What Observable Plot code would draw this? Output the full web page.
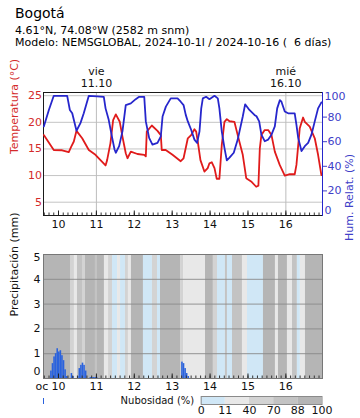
<!DOCTYPE html>
<html><head><meta charset="utf-8">
<script src="https://cdn.jsdelivr.net/npm/d3@7"></script>
<script src="https://cdn.jsdelivr.net/npm/@observablehq/plot@0.6"></script>
<style>
body{margin:0;background:#fff;font-family:"DejaVu Sans",sans-serif;}
#wrap{position:relative;width:360px;height:418px;overflow:hidden;background:#fff;}
.t{position:absolute;left:15px;white-space:nowrap;color:#000;line-height:normal;}
.p{position:absolute;left:0;}
</style></head><body>
<div id="wrap">
<div class="t" style="top:4.7px;font-size:14px">Bogotá</div>
<div class="t" style="top:23.6px;font-size:11px">4.61°N, 74.08°W (2582 m snm)</div>
<div class="t" style="top:36.4px;font-size:11px">Modelo: NEMSGLOBAL, 2024-10-1l / 2024-10-16 (&nbsp; 6 días)</div>
<div class="p" id="p1" style="top:56px"></div>
<div class="p" id="p1b" style="top:56px"></div>
<div class="p" id="p2" style="top:240px"></div>
<div class="p" id="p3" style="top:393px"></div>
<div style="position:absolute;left:42.5px;top:397.5px;width:1.6px;height:6px;background:#2a62dd"></div>
</div>
<script>
// hours since 2024-10-10 00:00
const xDomain = [-9.5, 167.2];
const dayHours = [0, 24, 48, 72, 96, 120, 144];
const dayLabels = ["10", "11", "12", "13", "14", "15", "16"];
const headerHours = [24, 144];
const headerLabels = ["vie\n11.10", "mié\n16.10"];
const tempTicks = [5, 10, 15, 20, 25];
const humTicks = [20, 40, 60, 80];
const precipTicks = [1, 2, 3, 4];

const tempHours = [-9.3,-3.0,2.3,6.5,8.0,9.7,11.4,15.0,19.2,23.4,29.8,30.8,32.9,34.6,36.3,38.8,40.5,42.6,43.7,45.8,50.0,54.3,55.3,55.9,59.1,62.7,64.8,65.4,67.9,72.2,77.4,79.2,81.9,84.0,86.1,87.2,88.2,89.9,92.4,94.5,95.6,97.1,98.8,100.2,101.9,103.4,105.1,106.6,108.3,111.4,113.5,116.7,118.9,122.0,125.2,126.6,127.5,128.5,130.6,132.8,134.9,137.0,140.1,143.3,146.5,149.6,150.7,152.8,154.9,156.0,159.1,162.3,164.4,166.5];
const tempValues = [17.6,14.8,14.75,14.4,15.4,16.4,18.4,17.0,14.8,13.9,11.9,12.9,16.1,20.4,21.5,20.1,17.3,14.2,13.25,14.5,14.05,13.9,13.6,18.25,19.4,18.4,17.6,14.8,14.8,13.9,12.7,13.25,17.0,17.6,18.7,18.25,16.4,12.9,10.75,11.4,12.3,12.5,11.4,9.4,9.4,15.7,20.1,20.6,20.2,20.1,17.6,13.9,9.5,8.9,7.9,8.1,15.1,17.6,18.55,18.55,17.6,14.5,12.0,10.0,10.25,10.25,12.0,18.9,20.9,20.1,19.2,17.0,13.9,10.1];

const humHours = [-9.3,-6.1,-3.0,5.5,7.2,8.7,11.4,13.9,16.0,19.2,24.5,28.7,29.8,31.8,34.0,35.5,36.3,38.4,40.5,42.6,45.8,48.9,51.1,54.3,55.3,57.4,59.5,62.7,64.8,65.9,68.0,71.1,75.4,77.4,79.2,80.6,81.9,84.0,86.1,87.8,89.3,90.4,91.4,93.5,95.6,98.8,100.9,101.9,103.4,105.1,106.6,108.3,111.0,113.5,116.7,118.2,120.9,124.1,125.4,127.1,128.5,130.6,132.8,134.9,137.0,138.5,140.2,141.2,143.3,145.4,149.6,150.7,151.8,153.9,156.0,158.1,160.2,162.3,164.4,166.5];
const humValues = [72.4,85.8,97.3,97.3,85.8,83.1,68.9,75.1,83.1,97.3,96.8,96.5,87.1,77.8,63.1,53.7,51.0,56.4,68.4,89.8,91.2,94.6,96.5,96.5,76.5,63.1,57.7,59.0,64.4,80.5,88.5,95.2,95.2,92.5,89.8,81.8,76.5,69.7,61.7,59.0,68.4,87.1,95.2,96.5,94.6,97.3,95.2,87.1,68.4,55.0,44.8,47.0,51.0,61.7,80.5,90.4,85.8,81.8,80.7,76.5,65.7,60.4,61.7,65.7,72.4,87.1,93.8,92.5,84.5,83.1,83.1,73.7,63.1,52.4,56.4,59.0,65.7,76.5,87.1,92.0];

const precipHours = [-10,-5,-4,-3,-2,-1,0,1,2,3,4,5,8,9,12,13,14,15,16,17,20,21,22,23,24,78,79,80,81,82];
const precipValues = [0.26,0.3,0.6,0.87,1.0,1.2,1.07,1.12,0.92,0.72,0.35,0.08,0.2,0.08,0.08,0.4,0.53,0.62,0.53,0.3,0.04,0.04,0.04,0.04,0.04,0.66,0.6,0.4,0.2,0.08];

const cloudStart = [-9.5,7.6,10.1,12.0,15.2,17.1,23.4,24.7,29.1,31.7,34.2,37.4,39.3,42.4,44.3,46.2,53.8,59.5,62.7,64.6,77.3,79.2,83.6,93.1,98.1,100.7,105.7,107.0,110.2,116.5,119.7,129.8,137.4,139.3,145.0,148.2,151.3,153.2,156.4];
const cloudEnd = 167.2;
const cloudCover = [95,60,30,80,60,95,80,90,25,50,5,25,8,55,15,95,5,55,5,95,55,25,30,95,55,5,75,5,80,30,5,92,25,92,35,80,5,25,92];
const cloudThresholds = [11, 40, 70, 88];
const cloudColors = ["#d0e7f6", "#e8e8e8", "#d3d3d3", "#c3c3c3", "#b5b5b5"];
const legendValues = [0, 11, 40, 70, 88];
const legendLabels = ["0", "11", "40", "70", "88", "100"];

const red = "#e01b1b", redText = "#d42a2a", blue = "#2626cc", blueText = "#4040c8", precipBlue = "#2a62dd";

const temps = tempHours.map((h, i) => ({h, v: tempValues[i]}));
const hums = humHours.map((h, i) => ({h, v: humValues[i]}));
const precip = precipHours.map((h, i) => ({h, v: precipValues[i]}));
const clouds = cloudStart.map((s, i) => ({s, e: i + 1 < cloudStart.length ? cloudStart[i + 1] : cloudEnd, c: cloudCover[i]}));
const legendCells = legendValues.map((v, i) => ({i, v}));
const minorTicks = d3.range(-9, 167, 3);

const font = "DejaVu Sans";
const st = {fontFamily: font, fontSize: "11px", background: "transparent", overflow: "visible"};
const W = 360, ML = 43, MR = 38;
const dayFmt = d => dayLabels[dayHours.indexOf(d)];

// top panel - temperature
const H1 = 176, MT1 = 36, MB1 = 17, FH1 = H1 - MT1 - MB1;
const p1 = Plot.plot({
  width: W, height: H1, marginTop: MT1, marginBottom: MB1, marginLeft: ML, marginRight: MR,
  style: st,
  x: {domain: xDomain, axis: null, label: null},
  y: {domain: [2.5, 25.6], axis: null, label: null},
  marks: [
    Plot.gridY(tempTicks, {stroke: "#c4c4c4", strokeOpacity: 1}),
    Plot.ruleX(headerHours, {stroke: "#bcbcbc"}),
    Plot.frame({stroke: "#1a1a1a"}),
    Plot.tickX(minorTicks, {stroke: "#333", insetTop: FH1 - 2.5}),
    Plot.tickX(dayHours, {stroke: "#222", insetTop: FH1 - 4.5}),
    Plot.axisX(dayHours, {label: null, tickSize: 0, tickPadding: 5, tickFormat: dayFmt, fontSize: 11, fill: "#111"}),
    Plot.axisY(tempTicks, {label: null, tickSize: 0, tickPadding: 1.5, color: redText, fontSize: 11}),
    Plot.text(headerHours, {x: d => d, text: d => headerLabels[headerHours.indexOf(d)], frameAnchor: "top", lineAnchor: "bottom", dy: -5.6, lineHeight: 1.06, fontSize: 11, fill: "#111"}),
    Plot.text(["Temperatura (°C)"], {frameAnchor: "left", rotate: -90, dx: -29, fill: redText, fontSize: 11}),
    Plot.line(temps, {x: "h", y: "v", stroke: red, strokeWidth: 1.8})
  ]
});
document.getElementById("p1").append(p1);

// top panel - humidity overlay
const p1b = Plot.plot({
  width: W, height: H1, marginTop: MT1, marginBottom: MB1, marginLeft: ML, marginRight: MR,
  style: st,
  x: {domain: xDomain, axis: null, label: null},
  y: {domain: [0, 100], axis: null, label: null},
  marks: [
    Plot.line(hums, {x: "h", y: "v", stroke: blue, strokeWidth: 1.8}),
    Plot.frame({anchor: "right", stroke: blue}),
    Plot.axisY(humTicks, {label: null, anchor: "right", tickSize: 4, tickPadding: 1, color: blueText, fontSize: 11}),
    Plot.text([100], {y: d => d, frameAnchor: "right", dx: 2, dy: 3.5, textAnchor: "start", fill: blueText, fontSize: 11}),
    Plot.text([0], {y: d => d, frameAnchor: "right", dx: 2, dy: -5.5, textAnchor: "start", fill: blueText, fontSize: 11}),
    Plot.text(["Hum. Relat. (%)"], {frameAnchor: "right", rotate: -90, dx: 27, fill: blueText, fontSize: 11})
  ]
});
document.getElementById("p1b").append(p1b);

// bottom panel - precipitation and cloud cover
const H2 = 155, MT2 = 14, MB2 = 17, FH2 = H2 - MT2 - MB2;
const p2 = Plot.plot({
  width: W, height: H2, marginTop: MT2, marginBottom: MB2, marginLeft: ML, marginRight: MR,
  style: st,
  x: {domain: xDomain, axis: null, label: null},
  y: {domain: [0, 5], axis: null, label: null},
  color: {type: "threshold", domain: cloudThresholds, range: cloudColors},
  marks: [
    Plot.rect(clouds, {x1: "s", x2: "e", fill: "c"}),
    Plot.gridY(precipTicks, {stroke: "#8a8a8a", strokeOpacity: 0.9}),
    Plot.rectY(precip, {x1: "h", x2: d => d.h + 1, y: "v", fill: precipBlue, clip: true}),
    Plot.frame({stroke: "#777"}),
    Plot.tickX(minorTicks, {stroke: "#333", insetTop: FH2 - 2.5}),
    Plot.tickX(dayHours, {stroke: "#222", insetTop: FH2 - 4.5}),
    Plot.axisX(dayHours, {label: null, tickSize: 0, tickPadding: 4, tickFormat: dayFmt, fontSize: 11, fill: "#111"}),
    Plot.axisY(precipTicks, {label: null, tickSize: 0, tickPadding: 3, fontSize: 11, fill: "#111"}),
    Plot.text([5], {y: d => d, frameAnchor: "left", dx: -3, dy: 2.7, textAnchor: "end", fontSize: 11, fill: "#111"}),
    Plot.text([0], {y: d => d, frameAnchor: "left", dx: -3, dy: -7.3, textAnchor: "end", fontSize: 11, fill: "#111"}),
    Plot.text(["oc"], {frameAnchor: "bottom-left", dx: -8, dy: 4, lineAnchor: "top", textAnchor: "start", fontSize: 11, fill: "#111"}),
    Plot.text(["Precipitación (mm)"], {frameAnchor: "left", rotate: -90, dx: -29, fontSize: 11, fill: "#111"})
  ]
});
document.getElementById("p2").append(p2);

// legend
const p3 = Plot.plot({
  width: W, height: 25, marginTop: 3, marginBottom: 14, marginLeft: 200.7, marginRight: 38.5,
  style: st,
  x: {domain: [0, 5], axis: null, label: null},
  y: {axis: null, label: null},
  color: {type: "threshold", domain: cloudThresholds, range: cloudColors},
  marks: [
    Plot.rect(legendCells, {x1: "i", x2: d => d.i + 1, fill: "v"}),
    Plot.frame({stroke: "#8a8a8a"}),
    Plot.axisX(d3.range(legendLabels.length), {label: null, tickSize: 0, tickPadding: 1.5, tickFormat: i => legendLabels[i], fontSize: 11, fill: "#111"}),
    Plot.text(["Nubosidad (%)"], {frameAnchor: "left", dx: -7, textAnchor: "end", fontSize: 10, fill: "#111"})
  ]
});
document.getElementById("p3").append(p3);
</script>
</body></html>
